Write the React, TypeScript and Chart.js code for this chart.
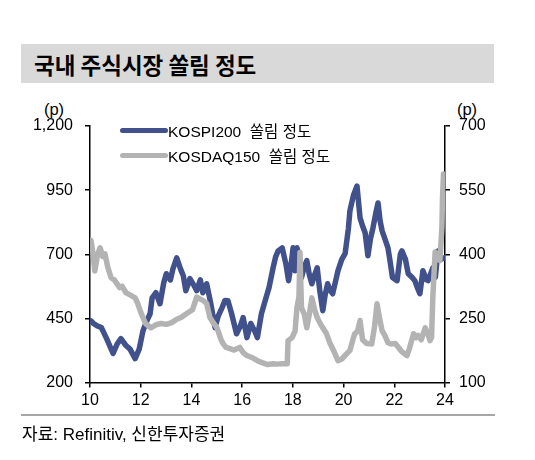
import React, { useEffect, useRef } from "react";
import { Chart, registerables } from "chart.js";

Chart.register(...registerables);

const kospiYears = [
  10.04, 10.14, 10.3, 10.45, 10.66, 10.91, 11.07, 11.22, 11.42, 11.58, 11.78, 11.94,
  12.09, 12.24, 12.37, 12.45, 12.6, 12.76, 12.91, 13.01, 13.17, 13.27, 13.42, 13.58,
  13.68, 13.78, 13.94, 14.09, 14.21, 14.35, 14.45, 14.6, 14.76, 14.93, 15.06, 15.21,
  15.32, 15.44, 15.58, 15.78, 15.93, 16.04, 16.19, 16.34, 16.5, 16.6, 16.76, 16.91,
  17.06, 17.22, 17.32, 17.42, 17.58, 17.73, 17.83, 17.93, 18.01, 18.09, 18.16, 18.24,
  18.34, 18.45, 18.55, 18.65, 18.75, 18.86, 18.96, 19.06, 19.18, 19.27, 19.37, 19.47,
  19.57, 19.78, 19.93, 20.06, 20.19, 20.25, 20.39, 20.53, 20.65, 20.75, 20.85, 20.96,
  21.06, 21.16, 21.27, 21.36, 21.44, 21.52, 21.63, 21.75, 21.83, 21.93, 22.11, 22.24,
  22.3, 22.44, 22.55, 22.7, 22.81, 22.91, 23.01, 23.13, 23.27, 23.33, 23.42, 23.52,
  23.62, 23.72, 23.83, 23.98,
];
const kospiValues = [
  440, 430, 420, 414, 370, 313, 350, 371, 344, 330, 293, 330,
  402, 440, 468, 530, 550, 507, 590, 624, 600, 643, 686, 640,
  616, 558, 605, 580, 558, 600, 550, 585, 510, 414, 460, 492,
  520, 519, 470, 390, 420, 453, 375, 430, 400, 375, 468, 520,
  570, 647, 690, 713, 725, 660, 597, 660, 725, 636, 725, 700,
  609, 650, 675, 620, 585, 620, 647, 560, 480, 540, 585, 560,
  546, 636, 680, 702, 800, 869, 930, 966, 842, 810, 784, 694,
  760, 803, 860, 900, 830, 791, 760, 725, 675, 609, 597, 700,
  713, 680, 624, 610, 597, 570, 546, 636, 600, 597, 620, 647,
  610, 713, 680, 686,
];

const kosdaqYears = [
  10.04, 10.12, 10.19, 10.3, 10.4, 10.5, 10.59, 10.7, 10.83, 10.96, 11.17, 11.27,
  11.42, 11.58, 11.78, 11.88, 12.01, 12.19, 12.4, 12.6, 12.81, 13.01, 13.22, 13.42,
  13.59, 13.73, 13.86, 14.04, 14.21, 14.35, 14.45, 14.6, 14.73, 14.86, 15.01, 15.17,
  15.25, 15.37, 15.52, 15.68, 15.91, 16.04, 16.19, 16.4, 16.6, 16.81, 17.01, 17.22,
  17.37, 17.58, 17.78, 17.81, 17.97, 18.09, 18.16, 18.24, 18.28, 18.34, 18.45, 18.55,
  18.65, 18.75, 18.86, 18.96, 19.06, 19.18, 19.32, 19.47, 19.63, 19.78, 19.93, 20.09,
  20.25, 20.39, 20.44, 20.55, 20.65, 20.75, 20.91, 21.11, 21.22, 21.32, 21.42, 21.52,
  21.63, 21.75, 21.88, 22.04, 22.19, 22.3, 22.5, 22.6, 22.76, 22.86, 22.94, 23.06,
  23.22, 23.32, 23.41, 23.47, 23.52, 23.61, 23.73, 23.8, 23.88, 23.9, 23.94,
];
const kosdaqValues = [
  432, 400, 361, 400, 415, 395, 401, 370, 345, 340, 322, 325,
  310, 305, 298, 285, 263, 238, 228, 235, 238, 236, 240, 248,
  252, 258, 263, 270, 300, 295, 292, 285, 252, 240, 228, 200,
  191, 182, 179, 176, 182, 170, 163, 158, 151, 146, 142, 144,
  143, 144, 144, 198, 205, 221, 275, 300, 404, 275, 260, 228,
  260, 298, 270, 252, 240, 228, 215, 191, 172, 151, 155, 165,
  175, 205, 214, 220, 245, 200, 191, 190, 230, 284, 250, 221,
  210, 193, 190, 191, 180, 172, 163, 180, 214, 205, 210, 200,
  228, 215, 198, 205, 300, 405, 390, 385, 465, 530, 588,
];

const seriesNames = ["KOSPI200  쏠림 정도", "KOSDAQ150  쏠림 정도"];
const seriesColors = ["#41518B", "#B3B3B3"];
const xTicks = [10, 12, 14, 16, 18, 20, 22, 24];

const tickFont = { family: '"Liberation Sans", Arial, sans-serif', size: 16 };
const korFont = '"Liberation Sans", "Noto Sans CJK KR", sans-serif';

export default function App() {
  const ref = useRef<HTMLCanvasElement | null>(null);

  useEffect(() => {
    if (!ref.current) return;
    const chart = new Chart(ref.current, {
      type: "line",
      data: {
        datasets: [
          {
            label: seriesNames[0],
            data: kospiYears.map((x, i) => ({ x, y: kospiValues[i] })),
            borderColor: seriesColors[0],
            backgroundColor: seriesColors[0],
            borderWidth: 5.5,
            borderJoinStyle: "round",
            borderCapStyle: "round",
            pointRadius: 0,
            tension: 0,
            yAxisID: "y",
            order: 1,
          },
          {
            label: seriesNames[1],
            data: kosdaqYears.map((x, i) => ({ x, y: kosdaqValues[i] })),
            borderColor: seriesColors[1],
            backgroundColor: seriesColors[1],
            borderWidth: 5.5,
            borderJoinStyle: "round",
            borderCapStyle: "round",
            pointRadius: 0,
            tension: 0,
            yAxisID: "y1",
            order: 0,
          },
        ],
      },
      options: {
        responsive: false,
        animation: false,
        layout: { padding: { top: 126, left: 0, right: 0, bottom: 0 } },
        plugins: { legend: { display: false }, tooltip: { enabled: false } },
        scales: {
          x: {
            type: "linear",
            min: 10,
            max: 24,
            afterBuildTicks: (s: any) => {
              s.ticks = xTicks.map((v) => ({ value: v }));
            },
            afterFit: (s: any) => {
              s.height = 77.5;
            },
            grid: { drawOnChartArea: false, tickLength: 5, color: "#000", lineWidth: 1.5 },
            border: { display: true, color: "#000", width: 1.5 },
            ticks: { font: tickFont, color: "#000", padding: 3, maxRotation: 0 },
          },
          y: {
            position: "left",
            min: 200,
            max: 1200,
            ticks: { stepSize: 250, font: tickFont, color: "#000", padding: 12 },
            afterFit: (s: any) => {
              s.width = 90;
            },
            grid: { drawOnChartArea: false, tickLength: 5, color: "#000", lineWidth: 1.5 },
            border: { display: true, color: "#000", width: 1.5 },
          },
          y1: {
            position: "right",
            min: 100,
            max: 700,
            ticks: { stepSize: 150, font: tickFont, color: "#000", padding: 9 },
            afterFit: (s: any) => {
              s.width = 90;
            },
            grid: { drawOnChartArea: false, tickLength: 5, color: "#000", lineWidth: 1.5 },
            border: { display: true, color: "#000", width: 1.5 },
          },
        },
      },
    });
    return () => chart.destroy();
  }, []);

  const legendRow = (i: number, top: number) => (
    <div
      style={{
        position: "absolute",
        left: 120,
        top: top - 11,
        height: 22,
        display: "flex",
        alignItems: "center",
        whiteSpace: "nowrap",
      }}
    >
      <div style={{ width: 48, height: 5, borderRadius: 3, background: seriesColors[i] }} />
      <span style={{ fontFamily: korFont, fontSize: 15.5, color: "#000", whiteSpace: "pre" }}>
        {seriesNames[i]}
      </span>
    </div>
  );

  return (
    <div
      style={{
        position: "absolute",
        left: 0,
        top: 0,
        width: 535,
        height: 460,
        background: "#fff",
        overflow: "hidden",
      }}
    >
      <div
        style={{
          position: "absolute",
          left: 21,
          top: 44,
          width: 473,
          height: 39,
          background: "#D9D9D9",
          display: "flex",
          alignItems: "center",
        }}
      >
        <span
          style={{
            marginLeft: 13,
            fontFamily: '"Noto Sans CJK KR", sans-serif',
            fontWeight: 700,
            fontSize: 22.5,
            color: "#000",
          }}
        >
          국내 주식시장 쏠림 정도
        </span>
      </div>
      <div
        style={{
          position: "absolute",
          left: 34,
          width: 40,
          top: 100,
          textAlign: "center",
          fontFamily: tickFont.family,
          fontSize: 16.5,
          color: "#000",
        }}
      >
        (p)
      </div>
      <div
        style={{
          position: "absolute",
          left: 447,
          width: 40,
          top: 100,
          textAlign: "center",
          fontFamily: tickFont.family,
          fontSize: 16.5,
          color: "#000",
        }}
      >
        (p)
      </div>
      <canvas
        ref={ref}
        width={535}
        height={460}
        style={{ position: "absolute", left: 0, top: 0, width: 535, height: 460 }}
      />
      {legendRow(0, 130)}
      {legendRow(1, 155)}
      <div
        style={{
          position: "absolute",
          left: 21,
          top: 414,
          width: 474,
          height: 2,
          background: "#A6A6A6",
        }}
      />
      <div
        style={{
          position: "absolute",
          left: 22,
          top: 420,
          fontFamily: korFont,
          fontSize: 17,
          color: "#000",
          whiteSpace: "nowrap",
        }}
      >
        자료: Refinitiv, 신한투자증권
      </div>
    </div>
  );
}
